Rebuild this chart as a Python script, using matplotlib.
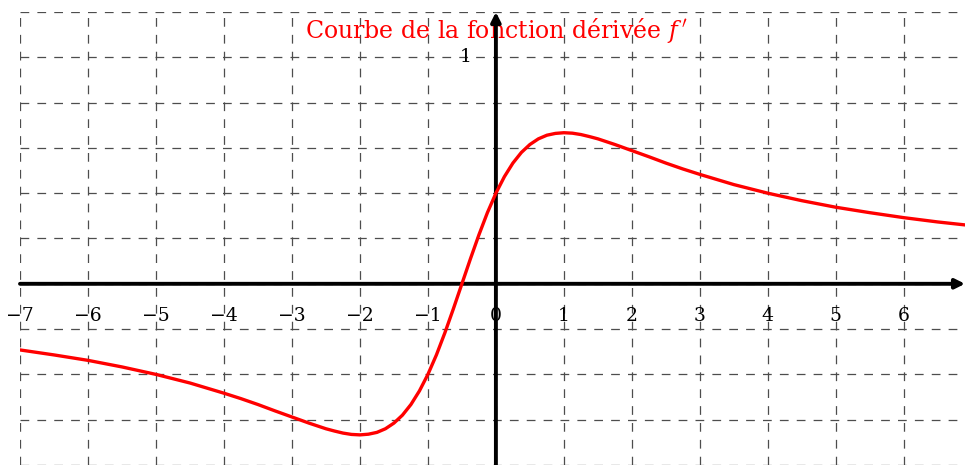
import matplotlib
matplotlib.use('Agg')
import matplotlib.pyplot as plt

x_vals = [-7, -6.5, -6, -5.5, -5, -4.5, -4, -3.75, -3.5, -3.25, -3, -2.75, -2.5,
          -2.375, -2.25, -2.125, -2, -1.875, -1.75, -1.625, -1.5, -1.375, -1.25,
          -1.125, -1, -0.875, -0.75, -0.625, -0.5, -0.375, -0.25, -0.125, 0,
          0.125, 0.25, 0.375, 0.5, 0.625, 0.75, 0.875, 1, 1.125, 1.25, 1.375,
          1.5, 1.75, 2, 2.25, 2.5, 2.75, 3, 3.5, 4, 4.5, 5, 5.5, 6, 6.5, 6.9]
y_vals = [-0.292, -0.314, -0.338, -0.367, -0.400, -0.438, -0.483, -0.507, -0.533,
          -0.561, -0.588, -0.615, -0.640, -0.650, -0.659, -0.665, -0.667, -0.664,
          -0.656, -0.640, -0.615, -0.580, -0.533, -0.473, -0.400, -0.314, -0.216,
          -0.110, 0.0, 0.110, 0.216, 0.314, 0.400, 0.473, 0.533, 0.580, 0.615,
          0.640, 0.656, 0.664, 0.667, 0.665, 0.659, 0.650, 0.640, 0.615, 0.588,
          0.561, 0.533, 0.507, 0.483, 0.438, 0.400, 0.367, 0.338, 0.314, 0.292,
          0.273, 0.260]

x_ticks = [-7, -6, -5, -4, -3, -2, -1, 0, 1, 2, 3, 4, 5, 6]
y_grid = [-0.8, -0.6, -0.4, -0.2, 0, 0.2, 0.4, 0.6, 0.8, 1.0, 1.2]
title = "Courbe de la fonction dérivée $f\\,'$"

plt.rcParams['mathtext.fontset'] = 'dejavuserif'
serif = ['DejaVu Serif']

fig = plt.figure(figsize=(9.65, 4.65), dpi=100)
ax = fig.add_axes([20 / 965, 0, 945 / 965, 453 / 465])
ax.set_xlim(-7, 6.9)
ax.set_ylim(-0.8, 1.2)
for s in ax.spines.values():
    s.set_visible(False)

# dashed grid
ax.set_xticks(x_ticks)
ax.set_yticks(y_grid)
ax.tick_params(length=0, labelbottom=False, labelleft=False)
ax.grid(True, color='#4d4d4d', lw=0.9, linestyle=(0, (7, 6.5)))

# title (under the axes lines)
ax.text(0, 1.087, title, ha='center', va='baseline', fontsize=17,
        color='red', family=serif, zorder=2)

# axes with arrows
ax.annotate('', xy=(6.9, 0), xytext=(-7, 0),
            arrowprops=dict(arrowstyle='-|>', lw=2.8, color='black',
                            mutation_scale=14, shrinkA=0, shrinkB=0), zorder=3)
ax.annotate('', xy=(0, 1.2), xytext=(0, -0.8),
            arrowprops=dict(arrowstyle='-|>', lw=2.8, color='black',
                            mutation_scale=14, shrinkA=0, shrinkB=0), zorder=3)

# curve
ax.plot(x_vals, y_vals, color='red', lw=2.4, zorder=5)

# tick labels
for t in x_ticks:
    lab = str(t).replace('-', '\u2212')
    ax.text(t, -0.14, lab, ha='center', va='center', fontsize=13.5,
            family=serif, zorder=6)
ax.text(-0.36, 1.0, '1', ha='right', va='center', fontsize=13.5, family=serif)

fig.savefig('out.png', dpi=100)
